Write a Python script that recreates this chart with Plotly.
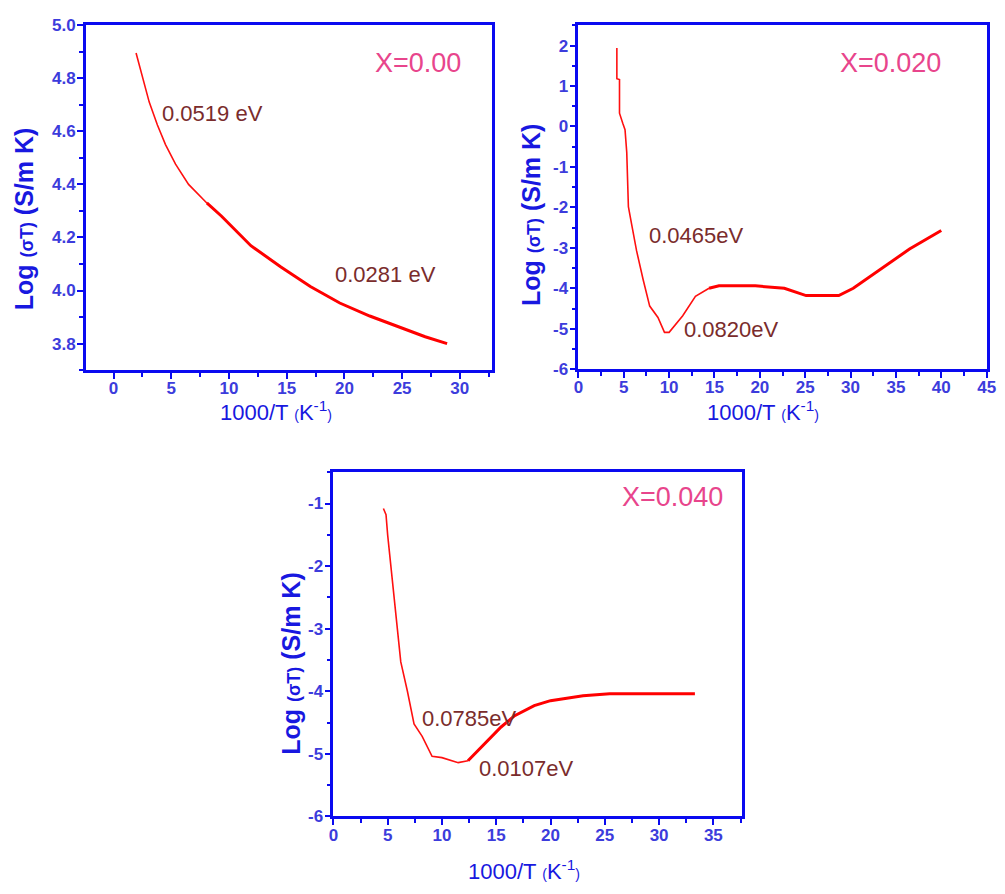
import plotly.graph_objects as go

# ---- data: Log(sigma*T) versus 1000/T for three compositions ----
x_000 = [1.95, 2.52, 3.09, 3.8, 4.5, 5.37, 6.5, 8.08, 9.36, 11.9, 14.5, 17.05, 19.6, 22.2, 25.0, 27.0, 28.9]
y_000 = [4.895, 4.797, 4.71, 4.624, 4.55, 4.476, 4.40, 4.33, 4.28, 4.169, 4.089, 4.015, 3.953, 3.904, 3.857, 3.826, 3.80]

x_020 = [4.24, 4.24, 4.53, 4.53, 4.89, 5.14, 5.33, 5.51, 5.87, 6.41, 7.14, 7.86, 8.77, 9.49, 10.0,
         11.5, 12.9, 14.4, 15.5, 19.5, 22.7, 25.1, 28.7, 30.3, 33.2, 36.5, 40.0]
y_020 = [1.94, 1.18, 1.16, 0.33, 0.08, -0.08, -0.64, -1.98, -2.42, -3.07, -3.79, -4.44, -4.72, -5.09, -5.09,
         -4.68, -4.2, -4.0, -3.94, -3.94, -4.0, -4.18, -4.18, -4.0, -3.55, -3.03, -2.57]

x_040 = [4.61, 4.85, 5.0, 5.21, 5.45, 5.76, 6.21, 6.82, 7.43, 8.18, 9.09, 10.0, 11.5, 12.4,
         13.95, 15.45, 16.7, 18.5, 20.0, 21.5, 23.0, 25.45, 29.1, 33.3]
y_040 = [-1.08, -1.18, -1.5, -1.86, -2.22, -2.85, -3.53, -4.0, -4.52, -4.72, -5.04, -5.06, -5.14, -5.11,
         -4.83, -4.57, -4.39, -4.23, -4.15, -4.11, -4.07, -4.04, -4.04, -4.04]

# tick labels (plain hyphen minus signs)
yticks_000 = [3.8, 4.0, 4.2, 4.4, 4.6, 4.8, 5.0]
ytext_000 = ["3.8", "4.0", "4.2", "4.4", "4.6", "4.8", "5.0"]
yticks_020 = [-6, -5, -4, -3, -2, -1, 0, 1, 2]
ytext_020 = ["-6", "-5", "-4", "-3", "-2", "-1", "0", "1", "2"]
yticks_040 = [-6, -5, -4, -3, -2, -1]
ytext_040 = ["-6", "-5", "-4", "-3", "-2", "-1"]

# x value after which each curve is drawn with a heavier stroke
heavy_from = {"000": 8.08, "020": 14.4, "040": 12.4}

# activation energy labels: (text, x, y)
labels_000 = [("0.0519 eV", 8.6, 4.668), ("0.0281 eV", 23.6, 4.059)]
labels_020 = [("0.0465eV", 13.0, -2.70), ("0.0820eV", 16.85, -5.01)]
labels_040 = [("0.0785eV", 12.5, -4.44), ("0.0107eV", 17.8, -5.23)]

W, H = 1005, 894
AXIS_BLUE = "#0a0af0"
TICK_BLUE = "#3c3cdc"
LABEL_RED = "#7a2c2c"
PINK = "#e8458c"
FONT = "Liberation Sans, Arial, sans-serif"


def px_x(p):
    return p / W


def px_y(p):
    return 1 - p / H


fig = go.Figure()

panels = [
    ("000", x_000, y_000, "x", "y", (82, 494), (16.5, 369), [-2.4, 32.8], [3.7, 5.0],
     yticks_000, ytext_000, 0.1, "X=0.00", (419, 55), labels_000, (20, 214), (275, 411)),
    ("020", x_020, y_020, "x2", "y2", (581.5, 995.5), (16.7, 368), [0, 45], [-6, 2.5],
     yticks_020, ytext_020, 0.5, "X=0.020", (898, 55), labels_020, (533, 210), (769, 411)),
    ("040", x_040, y_040, "x3", "y3", (333, 747), (473.3, 825), [0, 37.6], [-6, -0.5],
     yticks_040, ytext_040, 0.5, "X=0.040", (677, 499), labels_040, (290, 668), (526, 880)),
]

ytitle = "Log <span style='font-size:18px'>(σT)</span> (S/m K)"
xtitle = ("1000/T <span style='font-size:14px'>(</span>K<sup>-1</sup>"
          "<span style='font-size:14px'>)</span>")

for (key, xs, ys, xa, ya, xd, yd, xr, yr, ytv, ytt, ymin,
     tag, tagpos, labels, ytpos, xtpos) in panels:
    cut = heavy_from[key]
    x_thin = [v for v in xs if v <= cut]
    y_thin = [ys[i] for i, v in enumerate(xs) if v <= cut]
    x_thick = [v for v in xs if v >= cut]
    y_thick = [ys[i] for i, v in enumerate(xs) if v >= cut]
    fig.add_trace(go.Scatter(x=x_thin, y=y_thin, mode="lines", xaxis=xa, yaxis=ya,
                             line=dict(color="#ff1010", width=1.6), showlegend=False))
    fig.add_trace(go.Scatter(x=x_thick, y=y_thick, mode="lines", xaxis=xa, yaxis=ya,
                             line=dict(color="#ff0000", width=3), showlegend=False))

    xname = "xaxis" if xa == "x" else "xaxis" + xa[1:]
    yname = "yaxis" if ya == "y" else "yaxis" + ya[1:]
    common = dict(showline=True, linecolor=AXIS_BLUE, linewidth=2.5, mirror=True,
                  ticks="outside", tickcolor=AXIS_BLUE, tickwidth=2, ticklen=6,
                  showgrid=False, zeroline=False,
                  tickfont=dict(family=FONT, size=17, color=TICK_BLUE, weight="bold"))
    fig.layout[xname] = dict(domain=[px_x(xd[0]), px_x(xd[1])], range=xr, anchor=ya,
                             tick0=0, dtick=5, ticklabelstandoff=-5,
                             minor=dict(dtick=2.5, ticks="outside", ticklen=4,
                                        tickcolor=AXIS_BLUE, tickwidth=2),
                             **common)
    fig.layout[yname] = dict(domain=[px_y(yd[1]), px_y(yd[0])], range=yr, anchor=xa,
                             tickmode="array", tickvals=ytv, ticktext=ytt,
                             ticklabelstandoff=-2,
                             minor=dict(tickmode="linear", tick0=0, dtick=ymin, ticks="outside",
                                        ticklen=4, tickcolor=AXIS_BLUE, tickwidth=2),
                             **common)

    # composition tag
    fig.add_annotation(text=tag, x=px_x(tagpos[0]), y=px_y(tagpos[1]), xref="paper", yref="paper",
                       showarrow=False, xanchor="center", yanchor="middle",
                       font=dict(family=FONT, size=27, color=PINK))
    # activation energies
    for txt, lx, ly in labels:
        fig.add_annotation(text=txt, x=lx, y=ly, xref=xa, yref=ya, showarrow=False,
                           xanchor="center", yanchor="middle",
                           font=dict(family=FONT, size=22, color=LABEL_RED))
    # axis titles
    fig.add_annotation(text=ytitle, x=px_x(ytpos[0]), y=px_y(ytpos[1]), xref="paper", yref="paper",
                       showarrow=False, textangle=-90, xanchor="center", yanchor="middle",
                       font=dict(family=FONT, size=25, color="#1818e0", weight="bold"))
    fig.add_annotation(text=xtitle, x=px_x(xtpos[0]), y=px_y(xtpos[1]), xref="paper", yref="paper",
                       showarrow=False, xanchor="center", yanchor="middle",
                       font=dict(family=FONT, size=22, color="#1818e0"))

fig.update_layout(width=W, height=H, autosize=False,
                  margin=dict(l=0, r=0, t=0, b=0),
                  paper_bgcolor="white", plot_bgcolor="white")

fig.write_html("out.html")
